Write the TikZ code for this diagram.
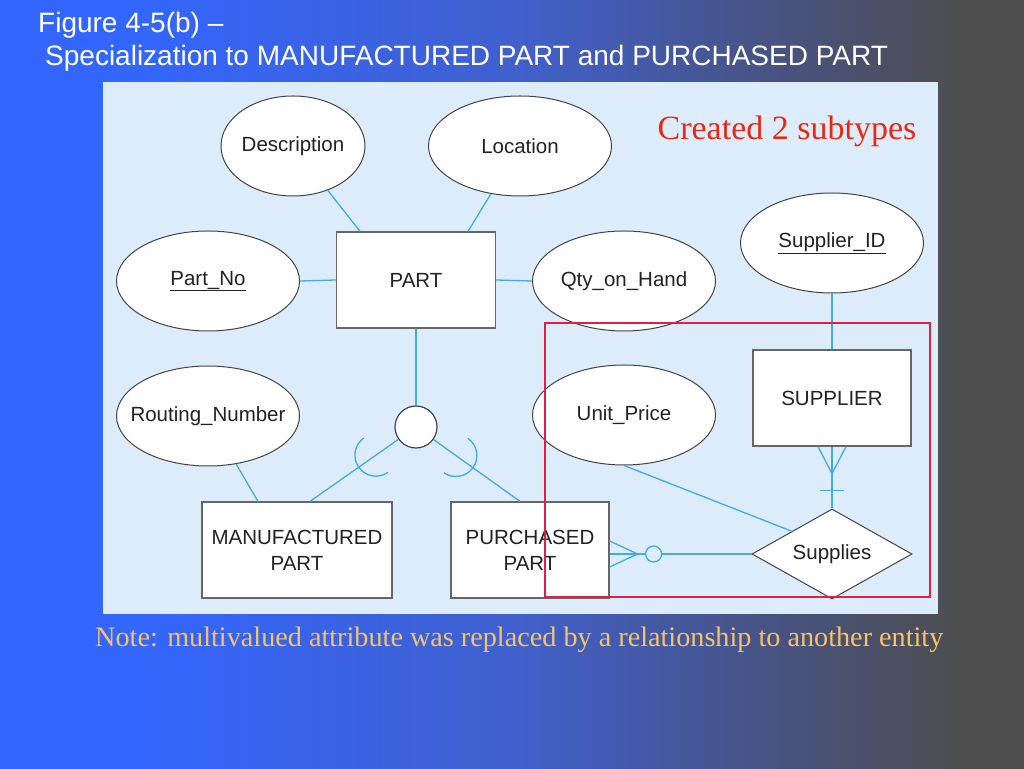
\documentclass[tikz,border=0pt]{standalone}
\usepackage{fontspec}
\setmainfont{Liberation Sans}
\newfontfamily\timesfont{Liberation Serif}
\usepackage{tikz}
\usetikzlibrary{shapes.geometric,calc}
\definecolor{slideblue}{RGB}{51,102,255}
\definecolor{slidemid}{RGB}{64,96,205}
\definecolor{slidedusk}{RGB}{72,82,125}
\definecolor{slidegray}{RGB}{78,78,78}
\definecolor{panelblue}{RGB}{221,236,250}
\definecolor{linkblue}{RGB}{66,170,228}
\definecolor{boxred}{RGB}{225,30,70}
\definecolor{notegold}{RGB}{245,195,110}
\definecolor{createdred}{RGB}{232,40,20}
\definecolor{inkgray}{RGB}{34,34,34}
\newcommand{\diagfont}{\fontsize{20.5}{26}\selectfont}
\newcommand{\titlefont}{\fontsize{28}{32}\selectfont}

\begin{document}
\begin{tikzpicture}[x=1pt,y=1pt,
    attr/.style={ellipse, draw=inkgray!85, fill=white, line width=1pt, minimum width=183pt, minimum height=100pt, inner sep=0pt, text=inkgray, font=\diagfont},
    entity/.style={rectangle, draw=gray!80!black, fill=white, line width=1.2pt, minimum width=158pt, minimum height=96pt, text=inkgray, font=\diagfont, align=center},
    link/.style={linkblue, line width=1.3pt},
    title/.style={text=white, font=\titlefont, inner sep=0pt, anchor=base west}]
        \useasboundingbox (0,0) rectangle (1024,768);
        % Background
        \fill[slideblue] (-4,-4) rectangle (131,772);
        \shade[left color=slideblue, right color=slidemid] (130,-4) rectangle (513,772);
        \shade[left color=slidemid, right color=slidedusk] (512,-4) rectangle (791,772);
        \shade[left color=slidedusk, right color=slidegray] (790,-4) rectangle (967,772);
        \fill[slidegray] (966,-4) rectangle (1028,772);
        % Title
        \node[title] (fig) at (38,735) {Figure 4-5(b) \textendash};
        \node[title] (spec) at (45,702) {Specialization to MANUFACTURED PART and PURCHASED PART};
        % Panel
        \fill[panelblue] (103,154) rectangle (938,686);
        \node[createdred, font=\timesfont\fontsize{34}{40}\selectfont, inner sep=0pt, anchor=base] (created) at (787,628) {Created 2 subtypes};
        % Attributes and entities
        \node[attr, minimum width=144pt] (desc) at (293,622) {\makebox[90pt]{Description}};
        \node[attr] (loc) at (520,622) {Location};
        \node[attr] (partno) at (208,487) {\underline{Part\_No}};
        \node[entity, minimum width=159pt] (part) at (416,488) {PART};
        \node[attr] (qty) at (624,487) {\makebox[110pt]{Qty\_on\_Hand}};
        \node[attr] (supid) at (832,525) {\underline{Supplier\_ID}};
        \node[entity] (supplier) at (832,370) {SUPPLIER};
        \node[attr] (routing) at (208,352) {\makebox[110pt]{Routing\_Number}};
        \node[circle, draw=inkgray!85, fill=white, line width=1.2pt, minimum size=42pt] (sub) at (416,341) {};
        \node[attr] (unit) at (624,353) {Unit\_Price};
        \node[entity, minimum width=190pt] (mfg) at (297,218) {MANUFACTURED\\PART};
        \node[entity] (pur) at (530,218) {PURCHASED\\PART};
        \node[diamond, draw=inkgray!85, fill=white, line width=1pt, shape aspect=1.78, inner sep=0pt, minimum width=160pt, minimum height=90pt, text=inkgray, font=\diagfont] (supplies) at (832,214) {Supplies};
        % Attribute links
        \draw[link] (desc) -- ($(part.north)+(-56,0)$);
        \draw[link] (loc) -- ($(part.north)+(52,0)$);
        \draw[link] (partno.east) -- (part.west);
        \draw[link] (part.east) -- (qty.west);
        \draw[link] (supid.south) -- (supplier.north);
        \draw[link] (routing) -- ($(mfg.north)+(-39,0)$);
        \draw[link] (unit.south) -- ($(supplies.north)!0.5!(supplies.west)$);
        % Subtypes
        \coordinate (mfgtop) at ($(mfg.north)+(13,0)$);
        \coordinate (purtop) at ($(pur.north)+(-10,0)$);
        \draw[link] (part.south) -- (sub.north);
        \draw[link] (sub) -- (mfgtop);
        \draw[link] (sub) -- (purtop);
        \draw[link] ($(sub)!49pt!(mfgtop)$) ++(125:21) arc[start angle=125, end angle=305, radius=21];
        \draw[link] ($(sub)!49pt!(purtop)$) ++(235:21) arc[start angle=235, end angle=415, radius=21];
        % Supplier -- Supplies
        \draw[link] (supplier.south) -- (supplies.north);
        \coordinate (ft) at ($(supplier.south)+(0,-27)$);
        \draw[link] ($(supplier.south)+(-14,0)$) -- (ft) -- ($(supplier.south)+(14,0)$);
        \draw[link] ($(supplier.south)+(-12,-44)$) -- ($(supplier.south)+(12,-44)$);
        % Purchased part -- Supplies
        \coordinate (pe) at (pur.east |- supplies.west);
        \draw[link] ($(pe)+(0,13)$) -- ($(pe)+(28,0)$) -- ($(pe)+(0,-13)$);
        \draw[link] (pe) -- ($(pe)+(36,0)$);
        \draw[link] ($(pe)+(44,0)$) circle (8);
        \draw[link] ($(pe)+(52,0)$) -- (supplies.west);
        % New part
        \draw[boxred, line width=1.3pt] (545,171) rectangle (930,445);
        % Note
        \node[notegold, font=\timesfont\fontsize{28.2}{32}\selectfont, inner sep=0pt, anchor=base west] (note) at (95,122) {Note: multivalued attribute was replaced by a relationship to another entity};
      \end{tikzpicture}
\end{document}
